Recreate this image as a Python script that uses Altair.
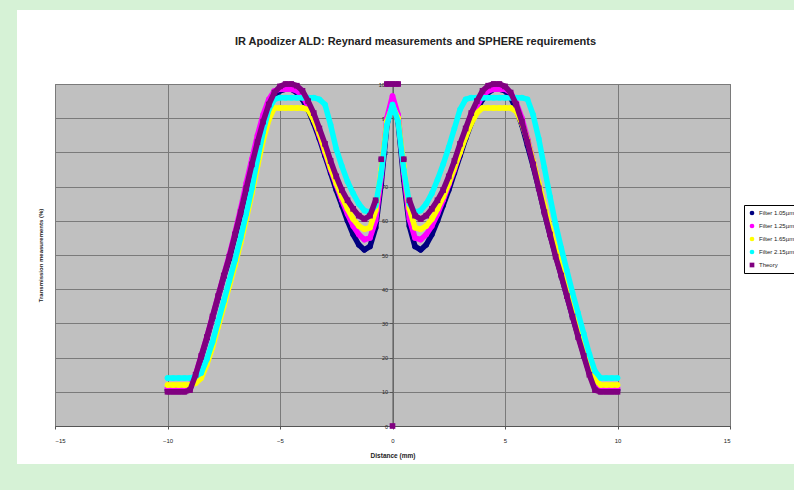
import altair as alt
import pandas as pd

# Radial position across the apodizer (mm)
DIST = [
    -10.0, -9.75, -9.5, -9.25, -9.0, -8.75, -8.5, -8.25, -8.0, -7.75,
    -7.5, -7.25, -7.0, -6.75, -6.5, -6.25, -6.0, -5.75, -5.5, -5.25,
    -5.0, -4.75, -4.5, -4.25, -4.0, -3.75, -3.5, -3.25, -3.0, -2.75,
    -2.5, -2.25, -2.0, -1.75, -1.5, -1.25, -1.0, -0.75, -0.5, -0.25,
    0.0,
    0.25, 0.5, 0.75, 1.0, 1.25, 1.5, 1.75, 2.0, 2.25, 2.5,
    2.75, 3.0, 3.25, 3.5, 3.75, 4.0, 4.25, 4.5, 4.75, 5.0,
    5.25, 5.5, 5.75, 6.0, 6.25, 6.5, 6.75, 7.0, 7.25, 7.5,
    7.75, 8.0, 8.25, 8.5, 8.75, 9.0, 9.25, 9.5, 9.75, 10.0,
]

# Measured transmission (%) per filter
FILTER_1 = [
    10.5, 10.5, 10.5, 10.5, 11, 14.5, 20, 25.5, 31.5, 37.5,
    43.5, 49, 55.5, 62, 69, 76, 82.5, 88.5, 93, 96.5,
    98, 98.5, 98.5, 97.5, 95.5, 92.5, 88.5, 84, 79, 74,
    69, 64.5, 60, 56, 53, 51.5, 52.5, 58, 71, 88,
    95,
    89, 72, 58.5, 52.5, 51.5, 53, 56, 60, 64.5, 69,
    74, 79, 84, 88.5, 92.5, 95.5, 97.5, 98.5, 98.5, 98,
    96, 92.5, 88, 82, 76, 69.5, 62.5, 56, 50, 44,
    38, 32, 26.5, 21, 15.5, 11.5, 10.5, 10.5, 10.5, 10.5,
]
FILTER_2 = [
    11, 11, 11, 11, 11.5, 15, 20.5, 26, 32, 38,
    44, 50, 56.5, 63.5, 71, 78, 85, 91, 95.5, 98,
    98.5, 98.5, 98.5, 98, 96.5, 93.5, 89.5, 85, 80, 75,
    70.5, 66, 62, 58.5, 56, 54.5, 55, 60, 73, 90,
    96.5,
    91, 74, 60.5, 55, 54.5, 56, 58.5, 62, 66, 70.5,
    75, 80, 85, 89.5, 93.5, 96.5, 98, 98.5, 98.5, 98.5,
    97.5, 94.5, 90, 84, 77.5, 70.5, 63.5, 57, 50.5, 44.5,
    38.5, 32.5, 27, 21.5, 16, 12, 11, 11, 11, 11,
]
FILTER_3 = [
    12, 12, 12, 12, 12, 12.5, 14, 18, 23, 29,
    35, 41, 47, 53.5, 60.5, 68, 76, 83.5, 89.5, 93,
    93, 93, 93, 93, 93, 92.5, 89.5, 85.5, 80.5, 75.5,
    71, 67, 63.5, 60.5, 58.5, 57.5, 58, 63, 75, 89,
    93.5,
    90, 76, 63.5, 58, 57.5, 58.5, 60.5, 63.5, 67, 71,
    75.5, 80, 84.5, 88.5, 91.5, 93, 93, 93, 93, 93,
    93, 92, 88.5, 83.5, 77.5, 71, 64.5, 58, 52, 46,
    40, 34, 28.5, 23, 17.5, 13.5, 12, 12, 12, 12,
]
FILTER_4 = [
    14, 14, 14, 14, 14, 14.5, 15.5, 19.5, 24.5, 30.5,
    36.5, 42.5, 48.5, 55, 62, 69.5, 78, 86, 92.5, 95.5,
    96, 96, 96, 96, 96, 96, 96, 95.5, 94, 88,
    81, 76, 71.5, 68, 65, 63, 62.5, 64.5, 74, 88,
    94,
    89, 75, 65, 62.5, 63, 65, 68, 72, 76.5, 81.5,
    87, 92.5, 95.5, 96, 96, 96, 96, 96, 96, 96,
    96, 96, 96, 95.5, 91, 84, 75.5, 67, 59, 52,
    45.5, 39, 33, 27, 21, 16, 14, 14, 14, 14,
]
# Specified (theoretical) apodizer profile
THEORY = [
    10, 10, 10, 10, 10.5, 15, 20.5, 26, 32, 38,
    44, 49.5, 56, 62.5, 69.5, 76.5, 83, 89, 94, 97.5,
    99.3, 100, 100, 99.5, 98, 95, 91.5, 87, 82.5, 77.5,
    73, 69, 66, 63.5, 61.5, 60.5, 61.5, 66, 78, 100,
    100,
    100, 78, 66, 61.5, 60.5, 61.5, 63.5, 66, 69, 73,
    77.5, 82.5, 87, 91.5, 95, 98, 99.5, 100, 100, 99.3,
    97.5, 94, 89, 83, 76.5, 69.5, 62.5, 56, 49.5, 44,
    38, 32, 26, 20.5, 15, 10.5, 10, 10, 10, 10,
]
# Central obscuration point of the theoretical profile
CENTER_DIST = [0.0]
CENTER_TRANS = [0.0]

SERIES = ["Filter 1.05µm", "Filter 1.25µm", "Filter 1.65µm", "Filter 2.15µm", "Theory"]
VALUES = [FILTER_1, FILTER_2, FILTER_3, FILTER_4, THEORY]
COLORS = ["#000080", "#FF00FF", "#FFFF00", "#00FFFF", "#800080"]
SHAPES = ["circle", "circle", "circle", "circle", "square"]

X_TICKS = [-15, -10, -5, 0, 5, 10, 15]
Y_TICKS = [0, 10, 20, 30, 40, 50, 60, 70, 80, 90, 100]

TITLE = "IR Apodizer ALD: Reynard measurements and SPHERE requirements"

FONT = "Liberation Sans"
GREEN = "#d6f2d6"
W, H = 675, 342

one = pd.DataFrame({"k": [0]})


def strip(x0, x1, y0, y1):
    return alt.Chart(one).mark_rect(color=GREEN).encode(
        x=alt.value(x0), x2=alt.value(x1), y=alt.value(y0), y2=alt.value(y1)
    )


frame = strip(-55, -38, -84, 406) + strip(-55, 739, -84, -74) + strip(-55, 739, 380, 406)

title = alt.Chart(one).mark_text(
    font=FONT, fontSize=11, fontWeight="bold", color="#222222",
    align="center", baseline="middle",
).encode(x=alt.value(W / 2 + 23), y=alt.value(-42), text=alt.value(TITLE))

legend = alt.Legend(
    title=None, orient="none", legendX=689, legendY=121,
    fillColor="white", strokeColor="#000000", padding=5,
    labelFont=FONT, labelFontSize=6, labelColor="#222222",
    symbolSize=22, rowPadding=7, symbolStrokeWidth=0,
)

x_enc = alt.X(
    "dist:Q",
    scale=alt.Scale(domain=[-15, 15], nice=False, zero=False),
    axis=alt.Axis(
        values=X_TICKS, title="Distance (mm)", grid=True,
        gridColor="#7a7a7a", gridWidth=1, domainColor="#555555",
        tickColor="#555555", tickSize=3, labelPadding=8,
        labelFont=FONT, labelFontSize=6, labelColor="#222222",
        titleFont=FONT, titleFontSize=6.5, titleFontWeight="bold",
        titleColor="#222222", titlePadding=9,
    ),
)
y_enc = alt.Y(
    "trans:Q",
    scale=alt.Scale(domain=[0, 100], nice=False),
    axis=alt.Axis(
        values=Y_TICKS, offset=-W / 2, grid=True,
        gridColor="#7a7a7a", gridWidth=1, domainColor="#555555",
        tickColor="#555555", tickSize=3, labelPadding=2,
        labelFont=FONT, labelFontSize=5.5, labelColor="#222222",
        title="Transmission measurements (%)", titleX=-W / 2 - 12, titleY=H / 2,
        titleFont=FONT, titleFontSize=6, titleFontWeight="bold",
        titleColor="#222222",
    ),
)
color_enc = alt.Color("series:N", scale=alt.Scale(domain=SERIES, range=COLORS), legend=legend)
shape_enc = alt.Shape("series:N", scale=alt.Scale(domain=SERIES, range=SHAPES), legend=legend)


def piece(name, d):
    # The theoretical profile is a step function at the central spike:
    # its band is split there and the steep edges are shown as markers only.
    if name != "Theory":
        return 0
    if d <= -0.75:
        return 0
    if d <= -0.5:
        return 1
    if d < 0.5:
        return 2
    if d < 0.75:
        return 3
    return 4


# One band (thick line + markers) per series, drawn in series order so the
# theoretical profile ends up on top.
layers = []
for name, vals in zip(SERIES, VALUES):
    d = pd.DataFrame({"series": name, "dist": DIST, "trans": vals})
    d["piece"] = [piece(name, v) for v in DIST]
    base = alt.Chart(d)
    layers.append(
        base.mark_line(strokeWidth=5.5, strokeCap="round", strokeJoin="round")
        .encode(x=x_enc, y=y_enc, color=color_enc, detail="piece:N")
    )
    layers.append(
        base.mark_point(filled=True, size=32, opacity=1)
        .encode(x=x_enc, y=y_enc, color=color_enc, shape=shape_enc)
    )

center = pd.DataFrame({"series": "Theory", "dist": CENTER_DIST, "trans": CENTER_TRANS})
layers.append(
    alt.Chart(center).mark_point(filled=True, size=32, opacity=1)
    .encode(x=x_enc, y=y_enc, color=color_enc, shape=shape_enc)
)

chart = (
    alt.layer(frame, title, *layers)
    .properties(
        width=W,
        height=H,
        autosize=alt.AutoSizeParams(type="none"),
        padding={"left": 55, "top": 84, "right": 64, "bottom": 64},
        background="white",
    )
    .configure_view(fill="#c0c0c0", stroke="#707070", strokeWidth=1)
)

chart.save("out.html", embed_options={"renderer": "svg", "actions": False})
